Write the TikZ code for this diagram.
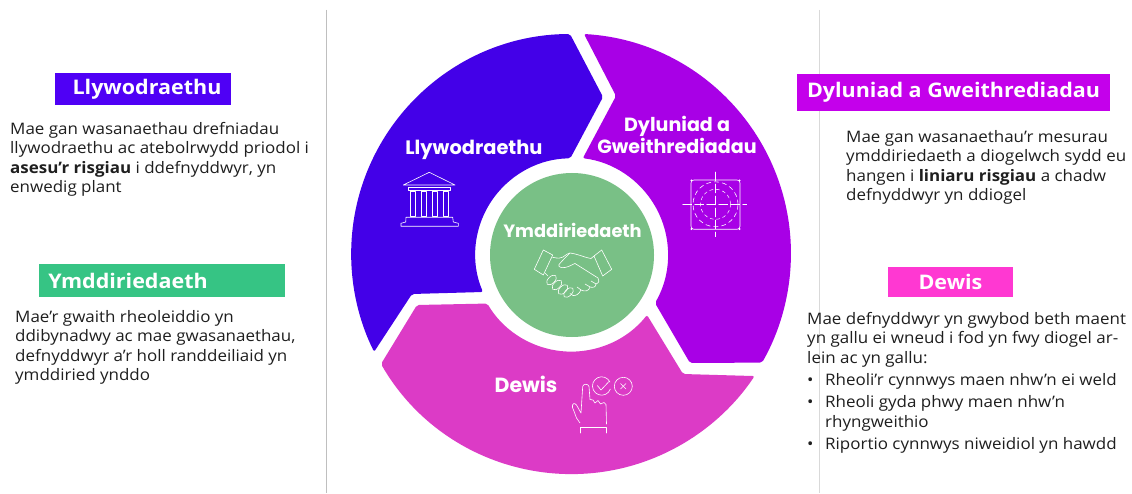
\documentclass[tikz,border=0pt]{standalone}
\usepackage{fontspec}
\setmainfont[FakeStretch=1.07]{Open Sans}
\newfontfamily\pop{Poppins}
\definecolor{cblue}{HTML}{4300E8}
\definecolor{cpurple}{HTML}{A800E6}
\definecolor{cmag}{HTML}{DC3BC6}
\definecolor{cgreen}{HTML}{79C086}
\definecolor{tblue}{HTML}{4F00F5}
\definecolor{tgreen}{HTML}{36C484}
\definecolor{tpurple}{HTML}{C400EB}
\definecolor{tpink}{HTML}{FF38D2}
\newcommand\fl{\rule{0pt}{15pt}}
\tikzset{
  para/.style={anchor=north west,inner sep=0pt,align=left,text=black!88,
    font=\fontsize{15.85}{19.5}\selectfont},
  titlebox/.style={inner sep=0pt,text=white,font=\fontsize{20.1}{24}\selectfont\bfseries},
  wheel/.style={inner sep=0pt,text=white,align=center,font=\pop\fontsize{19.1}{22}\selectfont\bfseries},
  icon/.style={draw=white,line width=0.6pt,line join=round,line cap=round},
  rulev/.style={line width=0.8pt},
}
\begin{document}
\begin{tikzpicture}[x=1pt,y=-1pt]
\useasboundingbox (0,0) rectangle (1132,494);
\fill[white] (0,0) rectangle (1132,494);
\coordinate (vt1) at (326,10); \coordinate (vb1) at (326,493);
\coordinate (vt2) at (819,10); \coordinate (vb2) at (819,493);
\draw[rulev,draw=black!25] (vt1) -- (vb1);
\draw[rulev,draw=black!15] (vt2) -- (vb2);
% segments
\fill[cblue,rounded corners=2pt] (570,34) arc[start angle=90.3,end angle=206.4,radius=220pt]
  -- (412,294) -- (483,292) arc[start angle=203.1,end angle=90.6,radius=96pt] -- (603,97) -- cycle;
\fill[cpurple,rounded corners=2pt] (584,34) arc[start angle=86.6,end angle=-29.7,radius=220pt]
  -- (690,363) -- (655,303) arc[start angle=-30,end angle=83,radius=97pt] -- (616,96) -- cycle;
\fill[cmag,rounded corners=2pt] (381,364) arc[start angle=210,end angle=326.3,radius=220pt]
  -- (683,374) -- (647,315) arc[start angle=-38.5,end angle=-149.7,radius=97pt] -- (417,305) -- cycle;
\node[circle,fill=cgreen,minimum size=164pt,inner sep=0pt] (hub) at (572,255) {};
% wheel labels
\node[wheel,font=\pop\fontsize{19.4}{22}\selectfont\bfseries] (wl) at (474,150) {Llywodraethu};
\node[wheel] (wd) at (677,135) {Dyluniad a\\Gweithrediadau};
\node[wheel,font=\pop\fontsize{17.8}{22}\selectfont\bfseries] (wy) at (572.5,230) {Ymddiriedaeth};
\node[wheel,font=\pop\fontsize{20.5}{22}\selectfont\bfseries] (wp) at (526,384) {Dewis};
% temple icon
\draw[icon] (403.3,185) -- (429.3,172.3) -- (455,185) -- cycle;
\draw[icon] (408.5,187) rectangle (450,190);
\foreach \a/\b in {410/415,421.7/426,432.3/437.3,443.3/448.3}
  \draw[icon] (\a,191) rectangle (\b,216);
\draw[icon] (401,226.3) -- (458.3,226.3) -- (458.3,223.3) -- (453.3,222) -- (452.7,217.3) -- (406,217.3) -- (405.7,222) -- (401,223.3) -- cycle;
% target icon
\draw[icon,rounded corners=3pt] (691,180) rectangle (740,229.3);
\foreach \p in {(691.5,180.5),(739.5,180.5),(691.5,229),(739.5,229)}
  \fill[white] \p circle (1.2pt);
\draw[icon,line width=0.5pt,dash pattern=on 9pt off 3pt] (682.7,204.3) -- (746.7,204.3);
\draw[icon,line width=0.5pt,dash pattern=on 9pt off 3pt] (715.5,172) -- (715.5,236.7);
\draw[icon,dash pattern=on 4.5pt off 3.5pt] (715.5,204.3) circle (22.5pt);
\draw[icon,line width=0.5pt,dash pattern=on 3.5pt off 3pt] (715.5,204.3) circle (15pt);
% handshake icon
\begin{scope}[icon]
\draw (543.3,250) -- (552.7,255) -- (543.3,275) -- (534.3,269.3) -- cycle;
\draw (601.7,250) -- (611.7,269.3) -- (602.7,276) -- (594,256) -- cycle;
\draw (552.7,257.3) .. controls (558,258.5) and (561,258.5) .. (563,257) .. controls (566,255) and (568,253) .. (570,253) .. controls (578,254) and (586,258) .. (591,258.5) -- (594,256);
\draw (570,253) .. controls (565,258) and (561,262) .. (559,264.5) .. controls (558,267) and (561,268) .. (565,267.5) .. controls (570,266.5) and (573,264) .. (575,263.5) -- (598,278) .. controls (600,280) and (599,283) .. (596,284) -- (591,281);
\draw (596,284) .. controls (596,287) and (593,288) .. (590,287) -- (585,284);
\draw (590,287) .. controls (589,291) and (585,292) .. (581,290) -- (577,287);
\draw (581,290) .. controls (579,294) and (576,296) .. (573,295.5) -- (570,293.5);
\draw (545,273) -- (548,276);
\foreach \x/\y in {551.5/280,557/285,563/289.5,568.5/292.5}
  \draw[rotate around={45:(\x,\y)}] (\x,\y) ellipse (6pt and 3.4pt);
\end{scope}
% hand icon
\begin{scope}[icon]
\draw (610,382.1) arc[start angle=25,end angle=340,radius=9.2pt];
\draw (597.3,385.5) -- (601,390) -- (609,381.5);
\draw (623.3,386.3) circle (9pt);
\draw (620.5,383.5) -- (626,389);
\draw (626,383.5) -- (620.5,389);
\draw (580,423) -- (576.5,418) .. controls (575,414) and (574,411) .. (572.5,407.5)
  .. controls (571.5,404) and (574.5,402) .. (576.5,405) -- (581,413) -- (582.7,386.5)
  .. controls (583,383.5) and (588.5,383.5) .. (589,386.5) -- (590,399.5) -- (593,400) -- (595,403) -- (598,400.5) -- (600.5,404) -- (604,402.5) -- (606,404.5) -- (606.5,424);
\draw (580.7,433) -- (580.7,427.3) -- (606.7,427.3) -- (606.7,433);
\end{scope}
% title boxes
\node[titlebox,fill=tblue,minimum width=176pt,minimum height=32pt] (t1) at (143,89) {\hspace*{8pt}Llywodraethu};
\node[titlebox,fill=tgreen,minimum width=246pt,minimum height=33pt] (t2) at (162,280.5) {Ymddiriedaeth\hspace*{68pt}};
\node[titlebox,fill=tpurple,minimum width=313pt,minimum height=37pt] (t3) at (953.5,92.5) {Dyluniad a Gweithrediadau};
\node[titlebox,fill=tpink,minimum width=125pt,minimum height=30pt] (t4) at (950.5,282) {Dewis};
% paragraphs
\node[para] (p1) at (10,119) {\fl Mae gan wasanaethau drefniadau\\llywodraethu ac atebolrwydd priodol i\\\textbf{asesu’r risgiau} i ddefnyddwyr, yn\\enwedig plant};
\node[para] (p2) at (15,307) {\fl Mae’r gwaith rheoleiddio yn\\ddibynadwy ac mae gwasanaethau,\\defnyddwyr a’r holl randdeiliaid yn\\ymddiried ynddo};
\node[para] (p3) at (846,127) {\fl Mae gan wasanaethau’r mesurau\\ymddiriedaeth a diogelwch sydd eu\\hangen i \textbf{liniaru risgiau} a chadw\\defnyddwyr yn ddiogel};
\node[para] (p4) at (807,309) {\fl Mae defnyddwyr yn gwybod beth maent\\yn gallu ei wneud i fod yn fwy diogel ar-\\lein ac yn gallu:\\[2.5pt]\makebox[18pt][l]{•}Rheoli’r cynnwys maen nhw’n ei weld\\[3pt]\makebox[18pt][l]{•}Rheoli gyda phwy maen nhw’n\\\hspace*{18pt}rhyngweithio\\[2.5pt]\makebox[18pt][l]{•}Riportio cynnwys niweidiol yn hawdd};
\end{tikzpicture}
\end{document}
